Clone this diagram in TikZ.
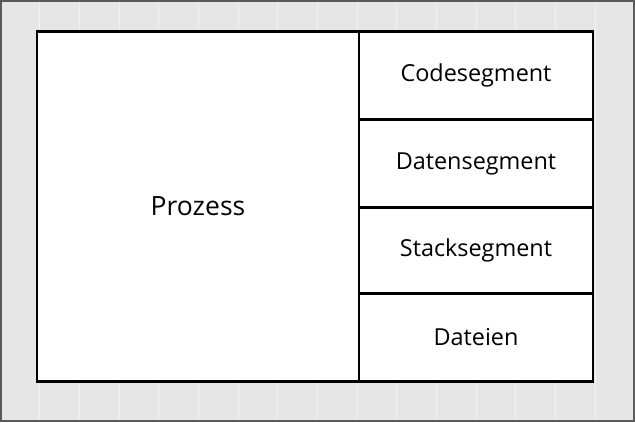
\documentclass[tikz,border=0pt]{standalone}
\usepackage{fontspec}
\setmainfont{Open Sans}
\usetikzlibrary{positioning}
\definecolor{bggray}{HTML}{E6E6E6}
\definecolor{gridline}{HTML}{F2F2F2}
\definecolor{framegray}{HTML}{5A5A5A}

\begin{document}
\begin{tikzpicture}[x=1pt, y=1pt, node distance=0pt,
  box/.style={draw, line width=2.4pt, fill=white, inner sep=0pt, outer sep=0pt},
  seg/.style={box, minimum width=234pt, minimum height=88pt, font=\fontsize{23.4}{28}\selectfont}]
% background
\fill[bggray] (0,0) rectangle (635,422);
\foreach \i in {1,...,15}
  \draw[gridline, line width=1pt] (39.69*\i,0) -- (39.69*\i,422);
\draw[framegray, line width=2pt] (1,1) rectangle (634,421);
\useasboundingbox (0,0) rectangle (635,422);
% boxes
\node[box, minimum width=322pt, minimum height=350pt, anchor=north west,
  font=\fontsize{26.5}{32}\selectfont] (prozess) at (37,391) {Prozess};
\node[seg, anchor=north west] (code) at (prozess.north east) {Codesegment};
\node[seg, below=of code.south, anchor=north] (daten) {Datensegment};
\node[seg, below=of daten.south, anchor=north, minimum height=86pt] (stack) {Stacksegment};
\node[seg, below=of stack.south, anchor=north] (dateien) {Dateien};
\end{tikzpicture}
\end{document}
